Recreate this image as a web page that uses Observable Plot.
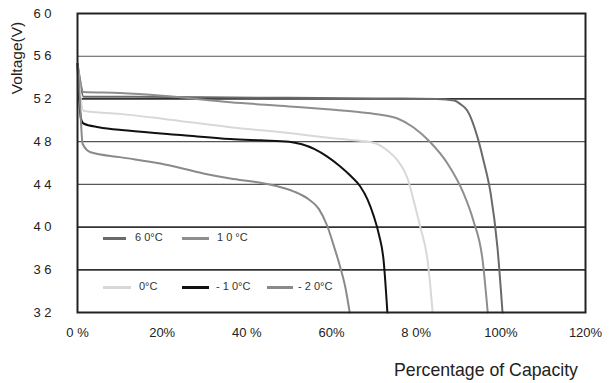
<!DOCTYPE html>
<html>
<head>
<meta charset="utf-8">
<script src="https://cdn.jsdelivr.net/npm/d3@7"></script>
<script src="https://cdn.jsdelivr.net/npm/@observablehq/plot@0.6"></script>
<style>
  html, body { margin: 0; padding: 0; background: #fff; }
  #wrap { position: relative; width: 611px; height: 383px; font-family: "Liberation Sans", Arial, sans-serif; }
  .leg { position: absolute; font-size: 11px; color: #333; line-height: 1; }
  .sw { position: absolute; height: 3px; }
</style>
</head>
<body>
<div id="wrap"></div>
<script>
// ---- data ----
const seriesNames = ["6 0°C", "1 0 °C", "0°C", "- 1 0°C", "- 2 0°C"];

const cap60 = [0, 0.5, 1.4, 10, 30, 50, 70, 85, 89, 90.5, 92.1, 94.5, 95.9, 97.6, 99.2, 100.4];
const volt60 = [55.3, 54.0, 52.2, 52.2, 52.15, 52.1, 52.05, 52.0, 51.85, 51.5, 50.9, 48.4, 46.24, 43.15, 38.1, 32];

const cap10 = [0, 0.5, 1.4, 10, 20, 36.1, 50, 59.8, 66.8, 72, 75.6, 79.4, 83.4, 87.4, 91.2, 93.5, 95.7, 96.9];
const volt10 = [55.3, 54.0, 52.65, 52.55, 52.3, 51.7, 51.3, 51.0, 50.76, 50.5, 50.17, 49.33, 47.92, 45.96, 43.15, 40.62, 36.87, 32];

const cap0 = [0, 0.5, 1.4, 10, 20, 36.1, 50, 59.8, 66, 69.9, 73.2, 75.6, 77.9, 79.4, 81.0, 82.7, 83.9];
const volt0 = [55.3, 53.0, 50.9, 50.6, 50.15, 49.35, 48.8, 48.35, 48.1, 47.9, 47.17, 46.24, 44.64, 42.49, 39.96, 36.87, 32];

const capM10 = [0, 0.4, 0.8, 1.4, 5, 11.8, 25, 36.1, 43.2, 50, 53, 56, 59, 62, 64.5, 66.8, 68.5, 70, 71.2, 72.3, 73.2];
const voltM10 = [55.3, 52.0, 50.2, 49.7, 49.35, 49.04, 48.6, 48.25, 48.12, 48.0, 47.75, 47.3, 46.6, 45.7, 44.8, 43.8, 42.6, 41.0, 39.3, 36.9, 32];

const capM20 = [0, 0.6, 1.2, 3.1, 10, 19.6, 30, 36.1, 43.2, 47, 51, 54.6, 57, 59, 60.5, 62.1, 63.3, 64.3];
const voltM20 = [55.3, 51.5, 47.8, 47.0, 46.55, 45.96, 45.0, 44.55, 44.15, 43.85, 43.35, 42.6, 41.7, 40.1, 38.3, 36.2, 34.3, 32];

const xTicks = [0, 20, 40, 60, 80, 100, 120];
const xTickLabels = ["0 %", "20%", "40 %", "60%", "8 0%", "100%", "120%"];
const yTicks = [32, 36, 40, 44, 48, 52, 56, 60];
const yTickLabels = ["3 2", "3 6", "4 0", "4 4", "4 8", "5 2", "5 6", "6 0"];

// ---- build table ----
const caps = [cap60, cap10, cap0, capM10, capM20];
const volts = [volt60, volt10, volt0, voltM10, voltM20];
const rows = seriesNames.flatMap((name, i) => caps[i].map((c, j) => ({series: name, cap: c, volt: volts[i][j]})));

const colors = ["#6a6a6a", "#8e8e8e", "#d8d8d8", "#111111", "#8a8a8a"];

const chart = Plot.plot({
  width: 611,
  height: 383,
  marginLeft: 77,
  marginRight: 26,
  marginTop: 13,
  marginBottom: 71,
  style: {fontFamily: "'Liberation Sans', Arial, sans-serif", background: "#fff", color: "#222"},
  x: {domain: [0, 120]},
  y: {domain: [32, 60]},
  color: {domain: seriesNames, range: colors},
  marks: [
    Plot.ruleY(yTicks.filter(v => [56, 48, 44].includes(v)), {stroke: "#555", strokeWidth: 1.1}),
    Plot.ruleY(yTicks.filter(v => [52, 40, 36].includes(v)), {stroke: "#333", strokeWidth: 1.8}),
    Plot.line(rows, {x: "cap", y: "volt", z: "series", stroke: "series", strokeWidth: 2, curve: "monotone-x"}),
    Plot.frame({stroke: "#222", strokeWidth: 2}),
    Plot.axisX({ticks: xTicks, tickFormat: d => xTickLabels[xTicks.indexOf(d)], tickSize: 0, tickPadding: 15, fontSize: 13, label: null}),
    Plot.axisY({ticks: yTicks, tickFormat: d => yTickLabels[yTicks.indexOf(d)], tickSize: 0, tickPadding: 26, fontSize: 13, label: null})
  ]
});

const wrap = document.getElementById("wrap");
wrap.appendChild(chart);

// axis titles
const svg = d3.select(chart);
svg.append("text")
  .attr("transform", "translate(22,58) rotate(-90)")
  .attr("text-anchor", "middle")
  .attr("font-size", 15.5)
  .attr("fill", "#222")
  .text("Voltage(V)");
svg.append("text")
  .attr("x", 486)
  .attr("y", 376)
  .attr("text-anchor", "middle")
  .attr("font-size", 17.7)
  .attr("fill", "#222")
  .text("Percentage of Capacity");

// legend (inside plot area)
const legendLayout = [
  {x0: 103, x1: 126, tx: 135, y: 238},
  {x0: 182, x1: 209, tx: 217, y: 238},
  {x0: 103, x1: 131, tx: 139, y: 287},
  {x0: 182, x1: 209, tx: 216, y: 287},
  {x0: 267, x1: 293, tx: 298, y: 287}
];
seriesNames.forEach((name, i) => {
  const L = legendLayout[i];
  const sw = document.createElement("div");
  sw.className = "sw";
  sw.style.left = L.x0 + "px";
  sw.style.width = (L.x1 - L.x0) + "px";
  sw.style.top = (L.y - 1.5) + "px";
  sw.style.background = colors[i];
  wrap.appendChild(sw);
  const t = document.createElement("div");
  t.className = "leg";
  t.style.left = L.tx + "px";
  t.style.top = (L.y - 6) + "px";
  t.textContent = name;
  wrap.appendChild(t);
});
</script>
</body>
</html>
